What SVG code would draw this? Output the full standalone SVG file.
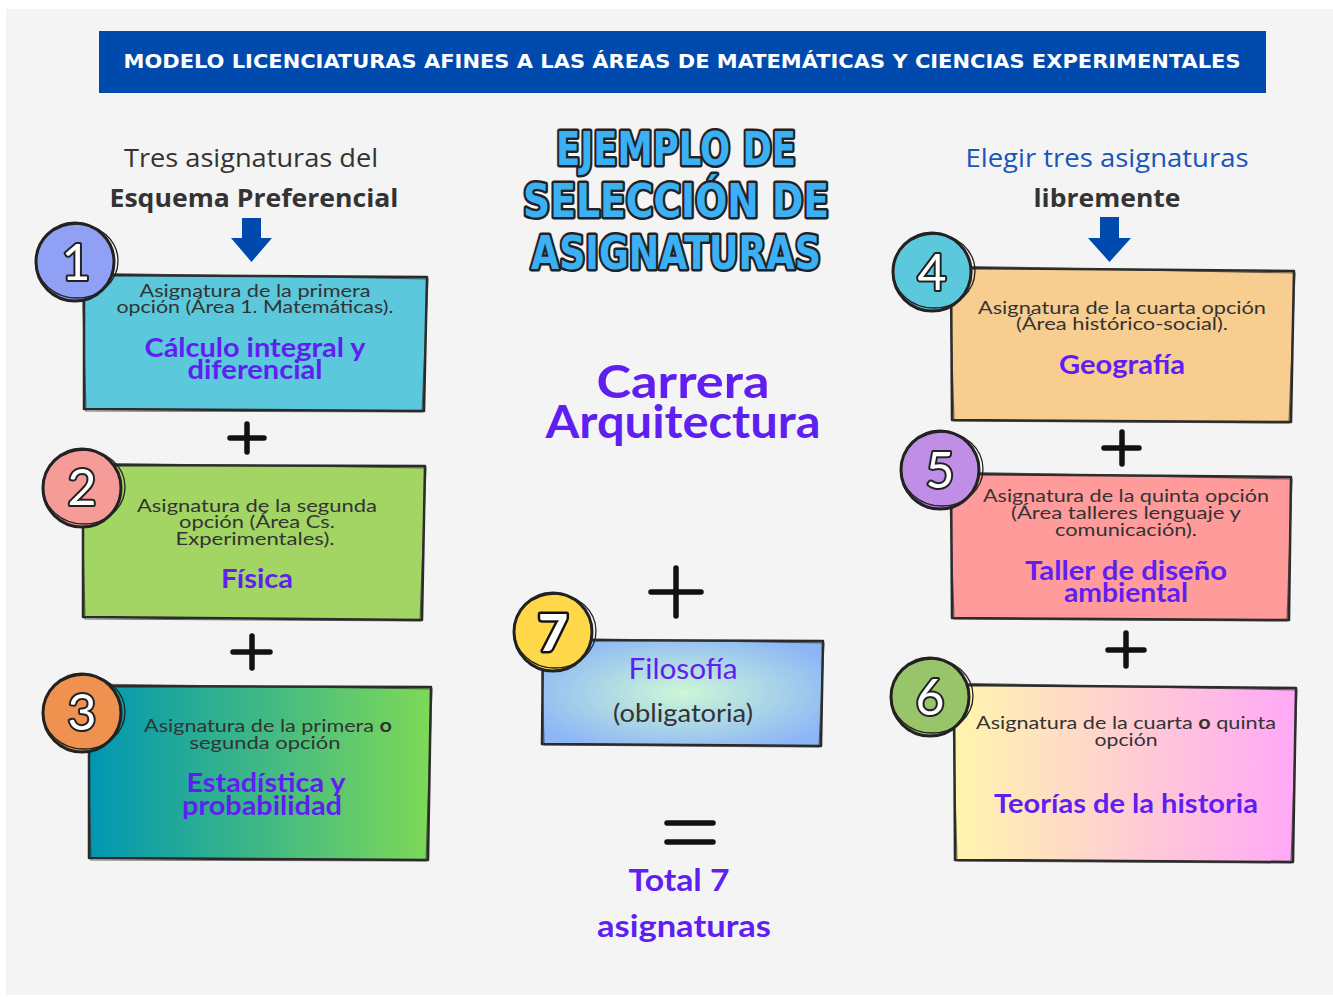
<svg xmlns="http://www.w3.org/2000/svg" width="1333" height="997" viewBox="0 0 1333 997">
<defs>
<linearGradient id="g3" x1="0" y1="0" x2="1" y2="0"><stop offset="0" stop-color="#0097b2"/><stop offset="1" stop-color="#7ed957"/></linearGradient>
<linearGradient id="g6" x1="0" y1="0" x2="1" y2="0"><stop offset="0" stop-color="#fff5ac"/><stop offset="1" stop-color="#ffa8f8"/></linearGradient>
<radialGradient id="g7" cx="0.5" cy="0.5" r="0.6"><stop offset="0" stop-color="#cdf7d6"/><stop offset="1" stop-color="#8cb6f6"/></radialGradient>
<style>
.sk{stroke:#2a2a2a;stroke-width:2.5;stroke-linejoin:round}
.sk2{fill:none;stroke:#333;stroke-width:1.2;opacity:0.7}
.body{font-family:Lato,"Open Sans","Liberation Sans",sans-serif;font-size:18px;fill:#333;text-anchor:middle}
.pur{font-family:Lato,"Liberation Sans",sans-serif;font-weight:bold;font-size:26px;fill:#5f1ff0;text-anchor:middle}
.num{font-family:Lato,"Liberation Sans",sans-serif;font-size:50px;fill:#fff;stroke:#222;stroke-width:4;paint-order:stroke;text-anchor:middle;stroke-linejoin:round}
.plus{stroke:#111;stroke-width:5.5;stroke-linecap:round;fill:none}
.circ{stroke:#222;stroke-width:3}
.circ2{fill:none;stroke:#222;stroke-width:1.3}
.arr{fill:#004aad}
.title{font-family:"DejaVu Sans Condensed","DejaVu Sans",sans-serif;font-weight:bold;font-size:46px;fill:#3bb0f5;stroke:#222;stroke-width:5;paint-order:stroke;stroke-linejoin:round;text-anchor:middle}
.hdr{font-family:"Open Sans","Liberation Sans",sans-serif;font-size:25px;text-anchor:middle}
</style>
</defs>
<rect x="0" y="0" width="1333" height="997" fill="#ffffff"/>
<rect x="6" y="9" width="1327" height="986" fill="#f4f4f4"/>

<g id="banner">
<rect x="99" y="31" width="1167" height="62" fill="#004aad"/>
<text x="682" y="68" font-family="'DejaVu Sans Condensed','Liberation Sans',sans-serif" font-weight="bold" font-size="20" fill="#fff" text-anchor="middle" textLength="1117" lengthAdjust="spacingAndGlyphs">MODELO LICENCIATURAS AFINES A LAS ÁREAS DE MATEMÁTICAS Y CIENCIAS EXPERIMENTALES</text>
</g>

<g id="left-header">
<text class="hdr" x="251" y="167" fill="#333" textLength="254" lengthAdjust="spacingAndGlyphs">Tres asignaturas del</text>
<text class="hdr" x="254" y="207" fill="#333" font-weight="bold" textLength="289" lengthAdjust="spacingAndGlyphs">Esquema Preferencial</text>
<path class="arr" d="M242,218 H261 V238 H272 L251.5,262 L231,238 H242 Z"/>
</g>

<g id="right-header">
<text class="hdr" x="1107" y="167" fill="#1a55b8" textLength="283" lengthAdjust="spacingAndGlyphs">Elegir tres asignaturas</text>
<text class="hdr" x="1107" y="207" fill="#333" font-weight="bold" textLength="147" lengthAdjust="spacingAndGlyphs">libremente</text>
<path class="arr" d="M1100,217 H1119 V238 H1131 L1109.5,262 L1088,238 H1100 Z"/>
</g>

<g id="title">
<text class="title" x="676" y="165" textLength="240" lengthAdjust="spacingAndGlyphs">EJEMPLO DE</text>
<text class="title" x="676" y="217" textLength="306" lengthAdjust="spacingAndGlyphs">SELECCIÓN  DE</text>
<text class="title" x="676" y="269" textLength="290" lengthAdjust="spacingAndGlyphs">ASIGNATURAS</text>
</g>

<g id="carrera">
<text x="683" y="398" font-family="Lato,'Liberation Sans',sans-serif" font-weight="bold" font-size="45" fill="#5f1ff0" text-anchor="middle" textLength="173" lengthAdjust="spacingAndGlyphs">Carrera</text>
<text x="683" y="438" font-family="Lato,'Liberation Sans',sans-serif" font-weight="bold" font-size="45" fill="#5f1ff0" text-anchor="middle" textLength="275" lengthAdjust="spacingAndGlyphs">Arquitectura</text>
</g>

<g id="connectors">
<path class="plus" d="M247,424 V452 M230,438 H264"/>
<path class="plus" d="M252,636 V668 M233,652 H270"/>
<path class="plus" d="M1122,432 V464 M1104,448 H1139"/>
<path class="plus" d="M1126,633 V666 M1108,650 H1144"/>
<path class="plus" stroke-width="7" d="M676,568 V616 M651,592 H701"/>
<path class="plus" stroke-width="6" stroke-linecap="butt" d="M667,823 H713 M667,842 H713"/>
</g>

<g id="node1">
<path class="sk" fill="#5bc8db" d="M84,275 L427,277 L424,411 L84,409 Z"/>
<path class="sk2" d="M82,273 L428,279 L422,412 L86,411 Z"/>
<circle class="circ" cx="75" cy="262" r="39" fill="#8fa0f5"/>
<ellipse class="circ2" cx="77" cy="261" rx="41" ry="37"/>
<text class="num" x="76" y="280">1</text>
<text class="body" x="255" y="297" textLength="231" lengthAdjust="spacingAndGlyphs">Asignatura de la primera</text>
<text class="body" x="255" y="313" textLength="277" lengthAdjust="spacingAndGlyphs">opción (Área 1. Matemáticas).</text>
<text class="pur" x="255" y="357" textLength="221" lengthAdjust="spacingAndGlyphs">Cálculo integral y</text>
<text class="pur" x="255" y="379" textLength="135" lengthAdjust="spacingAndGlyphs">diferencial</text>
</g>

<g id="node2">
<path class="sk" fill="#a2d563" d="M83,465 L425,466 L422,620 L83,617 Z"/>
<path class="sk2" d="M81,463 L426,468 L420,621 L85,619 Z"/>
<circle class="circ" cx="82" cy="488" r="39" fill="#f59b98"/>
<ellipse class="circ2" cx="84" cy="487" rx="41" ry="37"/>
<text class="num" x="82" y="505">2</text>
<text class="body" x="257" y="512" textLength="240" lengthAdjust="spacingAndGlyphs">Asignatura de la segunda</text>
<text class="body" x="257" y="528" textLength="156" lengthAdjust="spacingAndGlyphs">opción (Área Cs.</text>
<text class="body" x="255" y="545" textLength="159" lengthAdjust="spacingAndGlyphs">Experimentales).</text>
<text class="pur" x="257" y="588" textLength="72" lengthAdjust="spacingAndGlyphs">Física</text>
</g>

<g id="node3">
<path class="sk" fill="url(#g3)" d="M89,686 L431,687 L428,860 L89,858 Z"/>
<path class="sk2" d="M87,684 L432,689 L426,861 L91,860 Z"/>
<circle class="circ" cx="82" cy="713" r="39" fill="#f0924f"/>
<ellipse class="circ2" cx="84" cy="712" rx="41" ry="37"/>
<text class="num" x="82" y="730">3</text>
<text class="body" x="268" y="732" textLength="248" lengthAdjust="spacingAndGlyphs">Asignatura de la primera <tspan font-weight="bold">o</tspan></text>
<text class="body" x="265" y="749" textLength="151" lengthAdjust="spacingAndGlyphs">segunda opción</text>
<text class="pur" x="266" y="792" textLength="159" lengthAdjust="spacingAndGlyphs">Estadística y</text>
<text class="pur" x="262" y="815" textLength="160" lengthAdjust="spacingAndGlyphs">probabilidad</text>
</g>

<g id="node4">
<path class="sk" fill="#f7cd90" d="M951,268 L1294,271 L1291,422 L952,420 Z"/>
<path class="sk2" d="M949,266 L1295,273 L1289,423 L954,421 Z"/>
<circle class="circ" cx="932" cy="272" r="39" fill="#5bc8db"/>
<ellipse class="circ2" cx="934" cy="271" rx="41" ry="37"/>
<text class="num" x="932" y="290">4</text>
<text class="body" x="1122" y="314" textLength="288" lengthAdjust="spacingAndGlyphs">Asignatura de la cuarta opción</text>
<text class="body" x="1122" y="330" textLength="212" lengthAdjust="spacingAndGlyphs">(Área histórico-social).</text>
<text class="pur" x="1122" y="374" textLength="126" lengthAdjust="spacingAndGlyphs">Geografía</text>
</g>

<g id="node5">
<path class="sk" fill="#ff9b9b" d="M951,474 L1291,477 L1289,620 L952,618 Z"/>
<path class="sk2" d="M949,472 L1292,479 L1287,621 L954,619 Z"/>
<circle class="circ" cx="940" cy="470" r="39" fill="#c08ee6"/>
<ellipse class="circ2" cx="942" cy="469" rx="41" ry="37"/>
<text class="num" x="940" y="488">5</text>
<text class="body" x="1126" y="502" textLength="286" lengthAdjust="spacingAndGlyphs">Asignatura de la quinta opción</text>
<text class="body" x="1126" y="519" textLength="230" lengthAdjust="spacingAndGlyphs">(Área talleres lenguaje y</text>
<text class="body" x="1126" y="536" textLength="142" lengthAdjust="spacingAndGlyphs">comunicación).</text>
<text class="pur" x="1126" y="580" textLength="202" lengthAdjust="spacingAndGlyphs">Taller de diseño</text>
<text class="pur" x="1126" y="602" textLength="124" lengthAdjust="spacingAndGlyphs">ambiental</text>
</g>

<g id="node6">
<path class="sk" fill="url(#g6)" d="M954,685 L1296,688 L1293,862 L955,860 Z"/>
<path class="sk2" d="M952,683 L1297,690 L1291,863 L957,861 Z"/>
<circle class="circ" cx="930" cy="697" r="39" fill="#98c46a"/>
<ellipse class="circ2" cx="932" cy="696" rx="41" ry="37"/>
<text class="num" x="930" y="715">6</text>
<text class="body" x="1126" y="729" textLength="300" lengthAdjust="spacingAndGlyphs">Asignatura de la cuarta <tspan font-weight="bold">o</tspan> quinta</text>
<text class="body" x="1126" y="746" textLength="63" lengthAdjust="spacingAndGlyphs">opción</text>
<text class="pur" x="1126" y="813" textLength="264" lengthAdjust="spacingAndGlyphs">Teorías de la historia</text>
</g>

<g id="node7">
<path class="sk" fill="url(#g7)" d="M543,640 L823,641 L821,746 L542,744 Z"/>
<path class="sk2" d="M541,638 L824,643 L819,747 L544,745 Z"/>
<circle class="circ" cx="553" cy="632" r="39" fill="#ffd84a"/>
<ellipse class="circ2" cx="555" cy="631" rx="41" ry="37"/>
<text x="553" y="651" font-family="Lato,'Liberation Sans',sans-serif" font-weight="900" font-size="52" fill="#fff" stroke="#111" stroke-width="5" paint-order="stroke" text-anchor="middle" stroke-linejoin="round">7</text>
<text x="683" y="679" font-family="Lato,'Liberation Sans',sans-serif" font-size="28" fill="#5f1ff0" text-anchor="middle" textLength="109" lengthAdjust="spacingAndGlyphs">Filosofía</text>
<text x="683" y="722" font-family="Lato,'Liberation Sans',sans-serif" font-size="25" fill="#333" text-anchor="middle" textLength="140" lengthAdjust="spacingAndGlyphs">(obligatoria)</text>
</g>

<g id="total">
<text x="679" y="891" font-family="Lato,'Liberation Sans',sans-serif" font-weight="bold" font-size="31" fill="#5f1ff0" text-anchor="middle" textLength="101" lengthAdjust="spacingAndGlyphs">Total 7</text>
<text x="684" y="937" font-family="Lato,'Liberation Sans',sans-serif" font-weight="bold" font-size="31" fill="#5f1ff0" text-anchor="middle" textLength="174" lengthAdjust="spacingAndGlyphs">asignaturas</text>
</g>
</svg>
